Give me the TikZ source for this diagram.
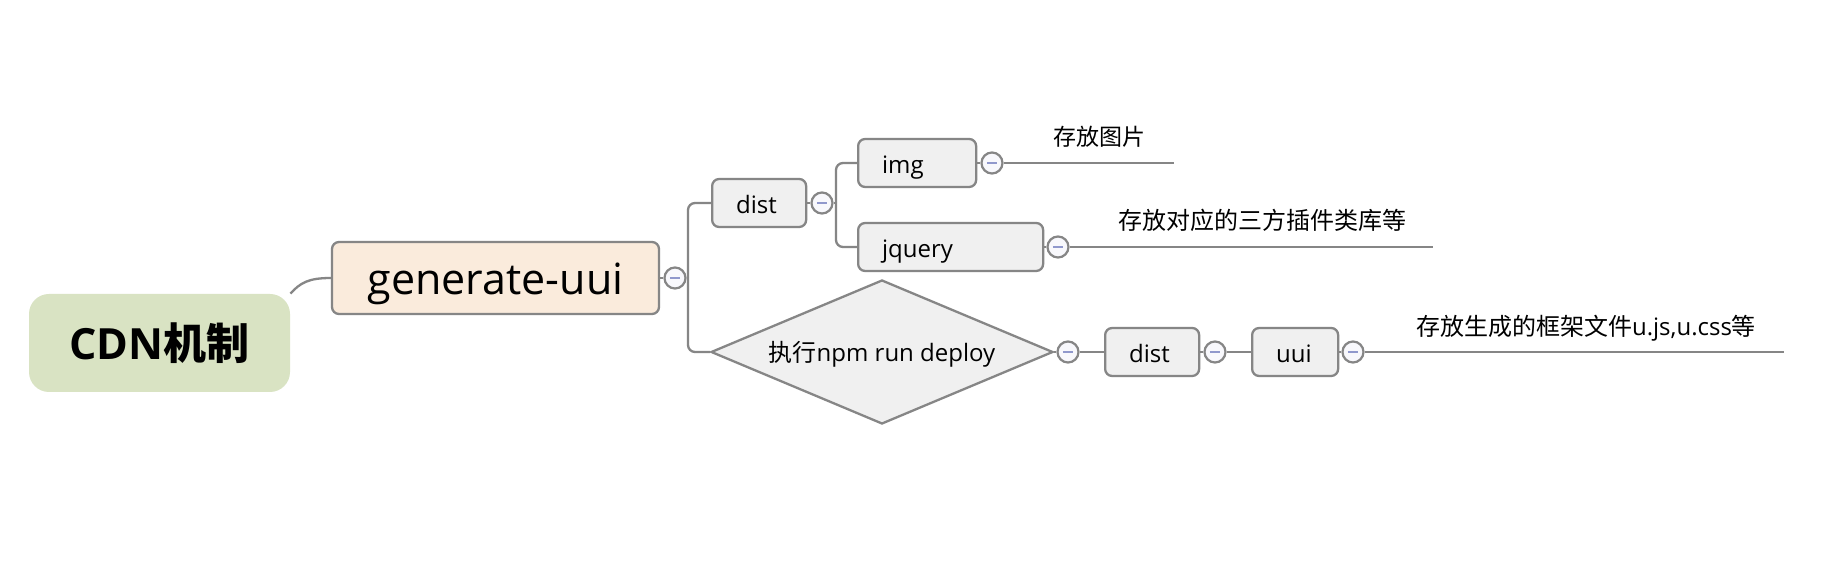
\documentclass[tikz,border=0pt]{standalone}
\usepackage{fontspec}
\setmainfont{Open Sans}
\newfontfamily\cjk{Noto Sans CJK SC}
\usetikzlibrary{shapes.geometric,calc}
\definecolor{lineGray}{HTML}{868686}
\definecolor{boxGray}{HTML}{F0F0F0}
\definecolor{genFill}{HTML}{FAEBDC}
\definecolor{cdnFill}{HTML}{D9E3C3}
\definecolor{minusBlue}{HTML}{9098CC}
\definecolor{dotFill}{HTML}{F8F8FC}
\begin{document}
\begin{tikzpicture}[x=0.5pt,y=-0.5pt,
  conn/.style={draw=lineGray,line width=1.15pt},
  topicbox/.style={draw=lineGray,line width=1.15pt,fill=boxGray,rounded corners=3.5pt,minimum height=24pt,inner xsep=12pt,inner ysep=0pt,anchor=west,align=left,text height=13pt,text depth=2pt,font=\fontsize{12}{14}\selectfont},
  dot/.style={circle,draw=lineGray,line width=1.1pt,fill=dotFill,minimum size=10.5pt,inner sep=0pt,
    path picture={\draw[minusBlue,line width=1.1pt] ([xshift=-2.6pt]path picture bounding box.center) -- ([xshift=2.6pt]path picture bounding box.center);}},
  note/.style={anchor=base,inner sep=0pt,font=\cjk\fontsize{12}{14}\selectfont}]

\fill[white] (0,0) rectangle (1828,576);
\useasboundingbox (0,0) rectangle (1828,576);

% nodes
\node[fill=cdnFill,rounded corners=10pt,minimum width=130.5pt,minimum height=49pt,inner sep=0pt,text height=20pt,text depth=3pt,font=\bfseries\fontsize{21.5}{24}\selectfont] (cdn) at (159.5,343) {CDN{\cjk\bfseries 机制}};
\node[draw=lineGray,line width=1.15pt,fill=genFill,rounded corners=3.5pt,minimum width=163.5pt,minimum height=36pt,inner sep=0pt,text height=20pt,text depth=3pt,font=\fontsize{21.5}{24}\selectfont] (gen) at (495.5,278) {generate-uui};
\node[dot] (c1) at (675,278) {};
\coordinate (j1) at (688,278);

\node[topicbox,text width=23pt] (dist) at (711,203) {dist};
\node[dot] (c2) at (822,203) {};
\coordinate (j2) at (836,203);

\node[topicbox,text width=35pt] (img) at (857,163) {img};
\node[dot] (c3) at (992,163) {};
\coordinate (e3) at (1174,163);
\node[note,font=\cjk\fontsize{11.5}{14}\selectfont] (t3) at (1099,146) {存放图片};

\node[topicbox,text width=68.5pt] (jq) at (857,247) {jquery};
\node[dot] (c4) at (1058,247) {};
\coordinate (e4) at (1433,247);
\node[note] (t4) at (1262,230) {存放对应的三方插件类库等};

\node[diamond,draw=lineGray,line width=1.15pt,fill=boxGray,minimum width=171pt,minimum height=72pt,aspect=2.375,inner sep=0pt,text height=12pt,text depth=2pt,font=\fontsize{12}{14}\selectfont] (dep) at (882,352) {{\cjk 执行}npm run deploy};
\node[dot] (c5) at (1068,352) {};
\node[topicbox,text width=23pt] (dist2) at (1104,352) {dist};
\node[dot] (c6) at (1215,352) {};
\node[topicbox,text width=19pt] (uui) at (1251,352) {uui};
\node[dot] (c7) at (1353,352) {};
\coordinate (e7) at (1784,352);
\node[note] (t7) at (1586,336) {存放生成的框架文件{\rmfamily u.js,u.css}等};

% connectors
\draw[conn] (cdn.north east) .. controls ($(cdn.north east)+(10,-11)$) and ($(gen.west)+(-22,0)$) .. (gen.west);
\draw[conn] (gen.east) -- (c1.west);
\draw[conn] (c1.east) -- (j1);
\draw[conn,rounded corners=3.5pt] (j1) |- (dist.west);
\draw[conn,rounded corners=3.5pt] (j1) |- (dep.west);
\draw[conn] (dist.east) -- (c2.west);
\draw[conn] (c2.east) -- (j2);
\draw[conn,rounded corners=3.5pt] (j2) |- (img.west);
\draw[conn,rounded corners=3.5pt] (j2) |- (jq.west);
\draw[conn] (img.east) -- (c3.west);
\draw[conn] (c3.east) -- (e3);
\draw[conn] (jq.east) -- (c4.west);
\draw[conn] (c4.east) -- (e4);
\draw[conn] (dep.east) -- (c5.west);
\draw[conn] (c5.east) -- (dist2.west);
\draw[conn] (dist2.east) -- (c6.west);
\draw[conn] (c6.east) -- (uui.west);
\draw[conn] (uui.east) -- (c7.west);
\draw[conn] (c7.east) -- (e7);
\end{tikzpicture}
\end{document}
